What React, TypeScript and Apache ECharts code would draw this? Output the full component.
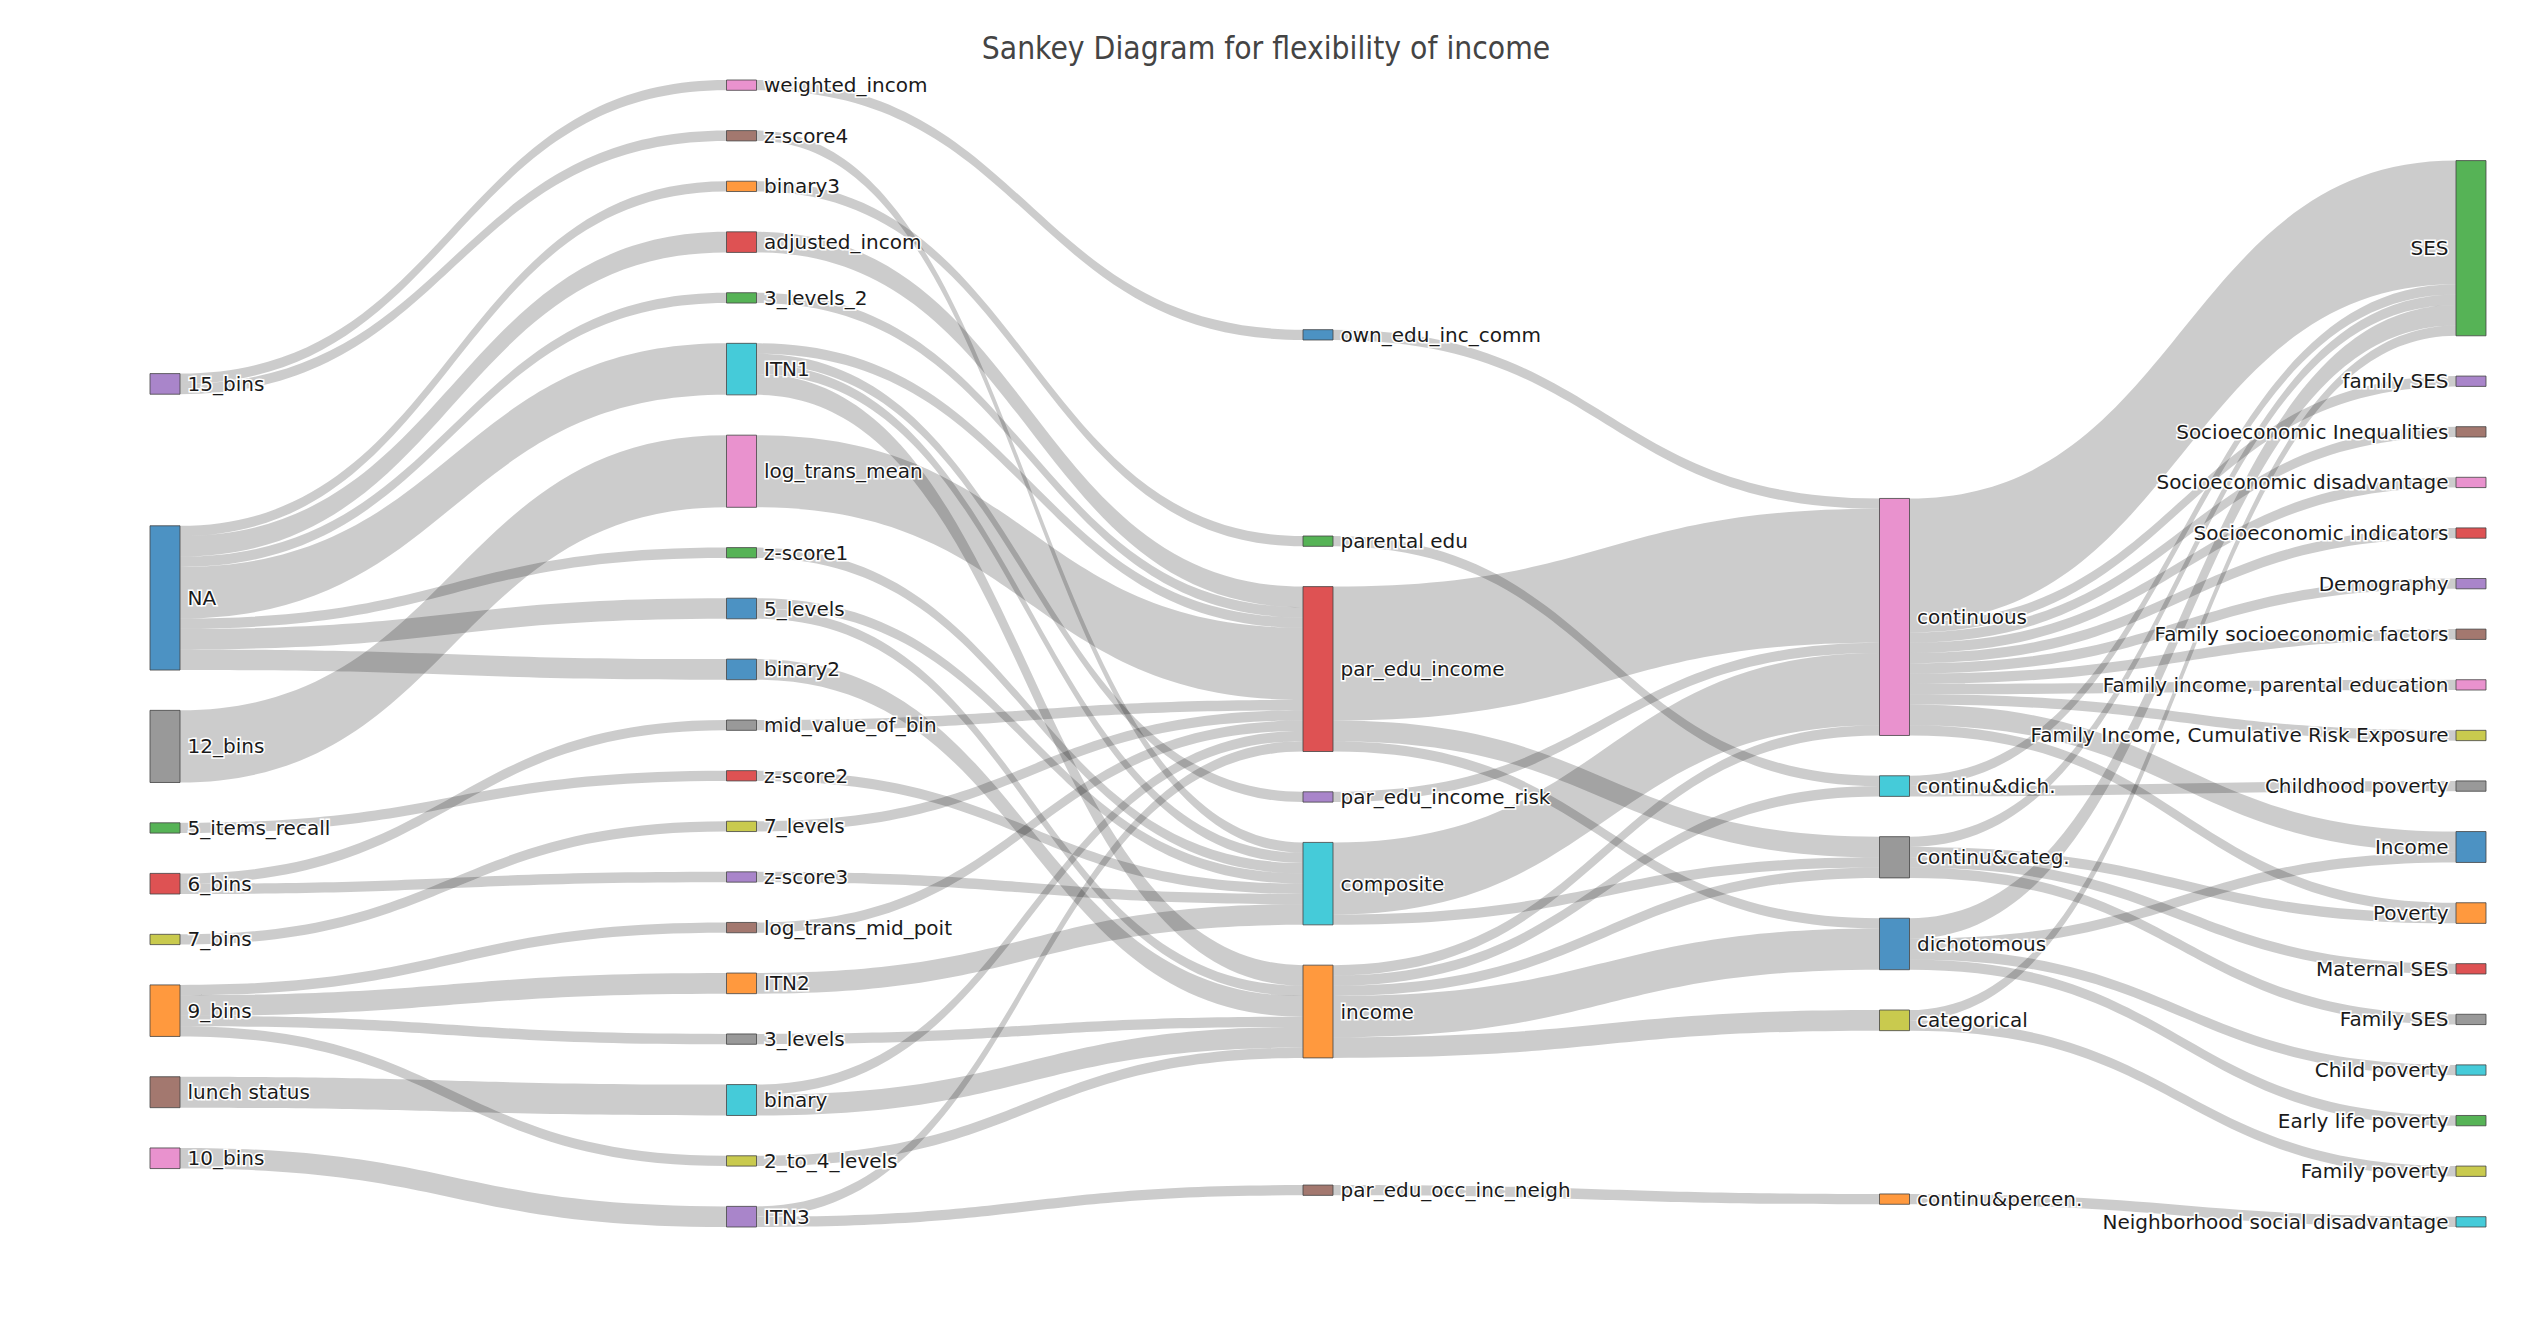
import React, { useEffect, useRef } from 'react';
import * as echarts from 'echarts';

const chartTitle = 'Sankey Diagram for flexibility of income';

// Node columns, in the order they are handed to ECharts (its layout then arranges them vertically)
const binningNodes = ['7_bins', 'NA', '10_bins', '9_bins', '12_bins', '15_bins', '5_items_recall', 'lunch status', '6_bins'];
const variableNodes = ['weighted_incom', '3_levels', 'z-score1', 'binary2', 'ITN3', 'binary', 'ITN1', '3_levels_2', 'log_trans_mid_poit', '7_levels', 'log_trans_mean', 'z-score2', '2_to_4_levels', 'ITN2', 'mid_value_of_bin', 'binary3', 'adjusted_incom', 'z-score4', 'z-score3', '5_levels'];
const measureNodes = ['own_edu_inc_comm', 'parental edu', 'par_edu_occ_inc_neigh', 'par_edu_income_risk', 'income', 'composite', 'par_edu_income'];
const typeNodes = ['categorical', 'continuous', 'continu&dich.', 'continu&categ.', 'dichotomous', 'continu&percen.'];
const conceptNodes = ['SES', 'family SES', 'Socioeconomic Inequalities', 'Income', 'Socioeconomic disadvantage', 'Socioeconomic indicators', 'Child poverty', 'Demography', 'Poverty', 'Family socioeconomic factors', 'Maternal SES', 'Childhood poverty', 'Family income, parental education', 'Family Income, Cumulative Risk Exposure', 'Early life poverty', 'Neighborhood social disadvantage', 'Family poverty', 'Family SES'];

// Links: [source, target, value]
const binningToVariable: [string, string, number][] = [
  ['15_bins', 'weighted_incom', 1],
  ['15_bins', 'z-score4', 1],
  ['NA', 'adjusted_incom', 2],
  ['NA', '3_levels_2', 1],
  ['NA', 'z-score1', 1],
  ['NA', 'ITN1', 5],
  ['NA', 'binary3', 1],
  ['NA', '5_levels', 2],
  ['NA', 'binary2', 2],
  ['12_bins', 'log_trans_mean', 7],
  ['5_items_recall', 'z-score2', 1],
  ['6_bins', 'mid_value_of_bin', 1],
  ['6_bins', 'z-score3', 1],
  ['7_bins', '7_levels', 1],
  ['9_bins', 'log_trans_mid_poit', 1],
  ['9_bins', 'ITN2', 2],
  ['9_bins', '3_levels', 1],
  ['9_bins', '2_to_4_levels', 1],
  ['lunch status', 'binary', 3],
  ['10_bins', 'ITN3', 2],
];

const variableToMeasure: [string, string, number][] = [
  ['weighted_incom', 'own_edu_inc_comm', 1],
  ['z-score4', 'composite', 1],
  ['adjusted_incom', 'par_edu_income', 2],
  ['3_levels_2', 'par_edu_income', 1],
  ['z-score1', 'composite', 1],
  ['ITN1', 'par_edu_income_risk', 1],
  ['ITN1', 'par_edu_income', 1],
  ['ITN1', 'composite', 1],
  ['ITN1', 'income', 2],
  ['log_trans_mean', 'par_edu_income', 7],
  ['binary3', 'parental edu', 1],
  ['5_levels', 'composite', 1],
  ['5_levels', 'income', 1],
  ['binary2', 'income', 2],
  ['mid_value_of_bin', 'par_edu_income', 1],
  ['z-score2', 'composite', 1],
  ['7_levels', 'par_edu_income', 1],
  ['z-score3', 'composite', 1],
  ['log_trans_mid_poit', 'par_edu_income', 1],
  ['ITN2', 'composite', 2],
  ['3_levels', 'income', 1],
  ['binary', 'par_edu_income', 1],
  ['binary', 'income', 2],
  ['2_to_4_levels', 'income', 1],
  ['ITN3', 'par_edu_income', 1],
  ['ITN3', 'par_edu_occ_inc_neigh', 1],
];

const measureToType: [string, string, number][] = [
  ['own_edu_inc_comm', 'continuous', 1],
  ['par_edu_income_risk', 'continuous', 1],
  ['par_edu_income', 'continuous', 13],
  ['par_edu_income', 'dichotomous', 1],
  ['par_edu_income', 'continu&categ.', 2],
  ['parental edu', 'continu&dich.', 1],
  ['composite', 'continuous', 7],
  ['composite', 'continu&categ.', 1],
  ['income', 'continuous', 1],
  ['income', 'continu&dich.', 1],
  ['income', 'dichotomous', 4],
  ['income', 'continu&categ.', 1],
  ['income', 'categorical', 2],
  ['par_edu_occ_inc_neigh', 'continu&percen.', 1],
];

const typeToConcept: [string, string, number][] = [
  ['continuous', 'SES', 12],
  ['continuous', 'family SES', 1],
  ['continuous', 'Socioeconomic Inequalities', 1],
  ['continuous', 'Socioeconomic disadvantage', 1],
  ['continuous', 'Socioeconomic indicators', 1],
  ['continuous', 'Demography', 1],
  ['continuous', 'Family socioeconomic factors', 1],
  ['continuous', 'Family income, parental education', 1],
  ['continuous', 'Family Income, Cumulative Risk Exposure', 1],
  ['continuous', 'Income', 2],
  ['continuous', 'Poverty', 1],
  ['continu&dich.', 'SES', 1],
  ['continu&dich.', 'Childhood poverty', 1],
  ['dichotomous', 'SES', 2],
  ['dichotomous', 'Income', 1],
  ['dichotomous', 'Child poverty', 1],
  ['dichotomous', 'Early life poverty', 1],
  ['continu&categ.', 'SES', 1],
  ['continu&categ.', 'Poverty', 1],
  ['continu&categ.', 'Maternal SES', 1],
  ['continu&categ.', 'Family SES', 1],
  ['categorical', 'SES', 1],
  ['categorical', 'Family poverty', 1],
  ['continu&percen.', 'Neighborhood social disadvantage', 1],
];

// Styles
const palette = ['#1f77b4', '#ff7f0e', '#2ca02c', '#d62728', '#9467bd', '#8c564b', '#e377c2', '#7f7f7f', '#bcbd22', '#17becf'];
const nodeColorIndex: Record<string, number> = {
  '15_bins': 4, 'NA': 0, '12_bins': 7, '5_items_recall': 2, '6_bins': 3, '7_bins': 8, '9_bins': 1, 'lunch status': 5, '10_bins': 6,
  'weighted_incom': 6, 'z-score4': 5, 'adjusted_incom': 3, '3_levels_2': 2, 'z-score1': 2, 'ITN1': 9, 'log_trans_mean': 6,
  'binary3': 1, '5_levels': 0, 'binary2': 0, 'mid_value_of_bin': 7, 'z-score2': 3, '7_levels': 8, 'z-score3': 4,
  'log_trans_mid_poit': 5, 'ITN2': 1, '3_levels': 7, 'binary': 9, '2_to_4_levels': 8, 'ITN3': 4,
  'own_edu_inc_comm': 0, 'par_edu_income_risk': 4, 'par_edu_income': 3, 'parental edu': 2, 'composite': 9, 'income': 1,
  'par_edu_occ_inc_neigh': 5,
  'continuous': 6, 'continu&dich.': 9, 'dichotomous': 0, 'continu&categ.': 7, 'categorical': 8, 'continu&percen.': 1,
  'SES': 2, 'family SES': 4, 'Socioeconomic Inequalities': 5, 'Socioeconomic disadvantage': 6, 'Socioeconomic indicators': 3,
  'Demography': 4, 'Family socioeconomic factors': 5, 'Family income, parental education': 6,
  'Family Income, Cumulative Risk Exposure': 8, 'Income': 0, 'Childhood poverty': 7, 'Poverty': 1, 'Child poverty': 9,
  'Early life poverty': 2, 'Family poverty': 8, 'Maternal SES': 3, 'Family SES': 7, 'Neighborhood social disadvantage': 9,
};

const columns = [binningNodes, variableNodes, measureNodes, typeNodes, conceptNodes];

function buildOption(): any {
  const data = columns.flatMap((col, ci) =>
    col.map((name) => ({
      name,
      depth: ci,
      itemStyle: { color: palette[nodeColorIndex[name]] },
      label: { position: ci === columns.length - 1 ? 'left' : 'right' },
    }))
  );
  const links = [...binningToVariable, ...variableToMeasure, ...measureToType, ...typeToConcept].map(
    ([source, target, value]) => ({ source, target, value })
  );
  return {
    animation: false,
    backgroundColor: '#fff',
    title: {
      text: chartTitle,
      left: 'center',
      top: 27,
      textStyle: {
        fontSize: 31.5,
        fontWeight: 'normal',
        color: '#444',
        fontFamily: '"DejaVu Sans Condensed", "Liberation Sans Narrow", sans-serif',
      },
    },
    series: [
      {
        type: 'sankey',
        left: 150,
        right: 46,
        top: 80,
        bottom: 105,
        nodeWidth: 30,
        nodeGap: 40.3,
        layoutIterations: 50,
        nodeAlign: 'justify',
        draggable: false,
        emphasis: { disabled: true },
        itemStyle: { borderColor: '#444', borderWidth: 1, opacity: 0.8 },
        lineStyle: { color: '#000', opacity: 0.2, curveness: 0.5 },
        label: {
          color: '#1a1a1a',
          fontSize: 20,
          fontFamily: '"DejaVu Sans", Verdana, sans-serif',
          distance: 7,
          textBorderColor: '#fff',
          textBorderWidth: 3,
        },
        data,
        links,
      },
    ],
  };
}

export default function App() {
  const ref = useRef<HTMLDivElement>(null);
  useEffect(() => {
    if (!ref.current) return;
    const chart = echarts.init(ref.current, null, { renderer: 'svg' });
    chart.setOption(buildOption());
    return () => chart.dispose();
  }, []);
  return (
    <div
      ref={ref}
      style={{ position: 'fixed', left: 0, top: 0, width: 2532, height: 1332, background: '#fff' }}
    />
  );
}
